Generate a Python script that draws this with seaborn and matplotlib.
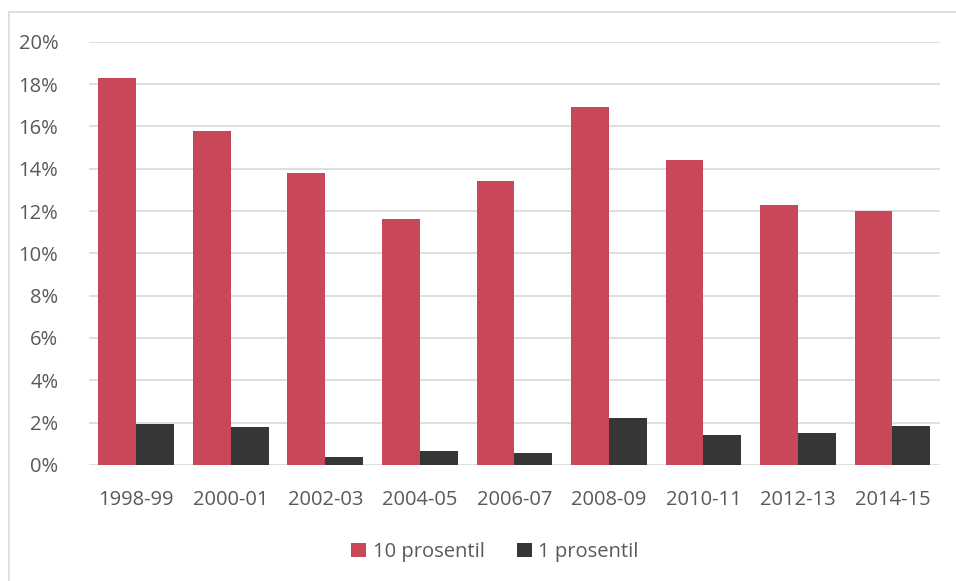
import matplotlib
matplotlib.use("Agg")
import matplotlib.pyplot as plt
from matplotlib.patches import Rectangle
from matplotlib.ticker import PercentFormatter, MultipleLocator
import seaborn as sns
import pandas as pd

periods = ["1998-99", "2000-01", "2002-03", "2004-05", "2006-07",
           "2008-09", "2010-11", "2012-13", "2014-15"]
p10 = [18.3, 15.8, 13.8, 11.6, 13.4, 16.9, 14.4, 12.3, 12.0]
p1 = [1.95, 1.8, 0.38, 0.66, 0.57, 2.22, 1.42, 1.51, 1.84]
series_names = ["10 prosentil", "1 prosentil"]
colors = ["#C8485A", "#363636"]

df = pd.DataFrame({
    "periode": periods * 2,
    "andel": p10 + p1,
    "serie": [series_names[0]] * len(periods) + [series_names[1]] * len(periods),
})

sns.set_theme(style="white")
plt.rcParams["font.family"] = ["Open Sans", "DejaVu Sans"]
text_color = "#595959"
fs = 14.5

fig = plt.figure(figsize=(9.56, 5.81), dpi=100)
ax = fig.add_axes([0.093, 0.2, 0.89, 0.728])

sns.barplot(data=df, x="periode", y="andel", hue="serie", palette=colors,
            width=0.8, saturation=1, linewidth=0, ax=ax, legend=True)

ax.set_ylim(0, 20)
ax.yaxis.set_major_locator(MultipleLocator(2))
ax.yaxis.set_major_formatter(PercentFormatter(decimals=0))
ax.grid(axis="y", color="#D9D9D9", linewidth=1.2)
ax.set_axisbelow(True)
for s in ax.spines.values():
    s.set_visible(False)
ax.set_xlabel("")
ax.set_ylabel("")
ax.tick_params(axis="both", length=0, labelsize=fs, labelcolor=text_color)
ax.tick_params(axis="x", pad=18)
ax.tick_params(axis="y", pad=22)

ax.legend(loc="upper center", bbox_to_anchor=(0.477, -0.14), ncol=2,
          frameon=False, fontsize=fs, labelcolor=text_color,
          handlelength=0.75, handleheight=0.75, handletextpad=0.3,
          columnspacing=1.6)

# outer chart border (top and left edges)
fig.patches.append(Rectangle((0.009, -0.05), 1.2, 1.029, transform=fig.transFigure,
                             fill=False, edgecolor="#D9D9D9", linewidth=1.2))

fig.savefig("out.png", dpi=100, facecolor="white")
